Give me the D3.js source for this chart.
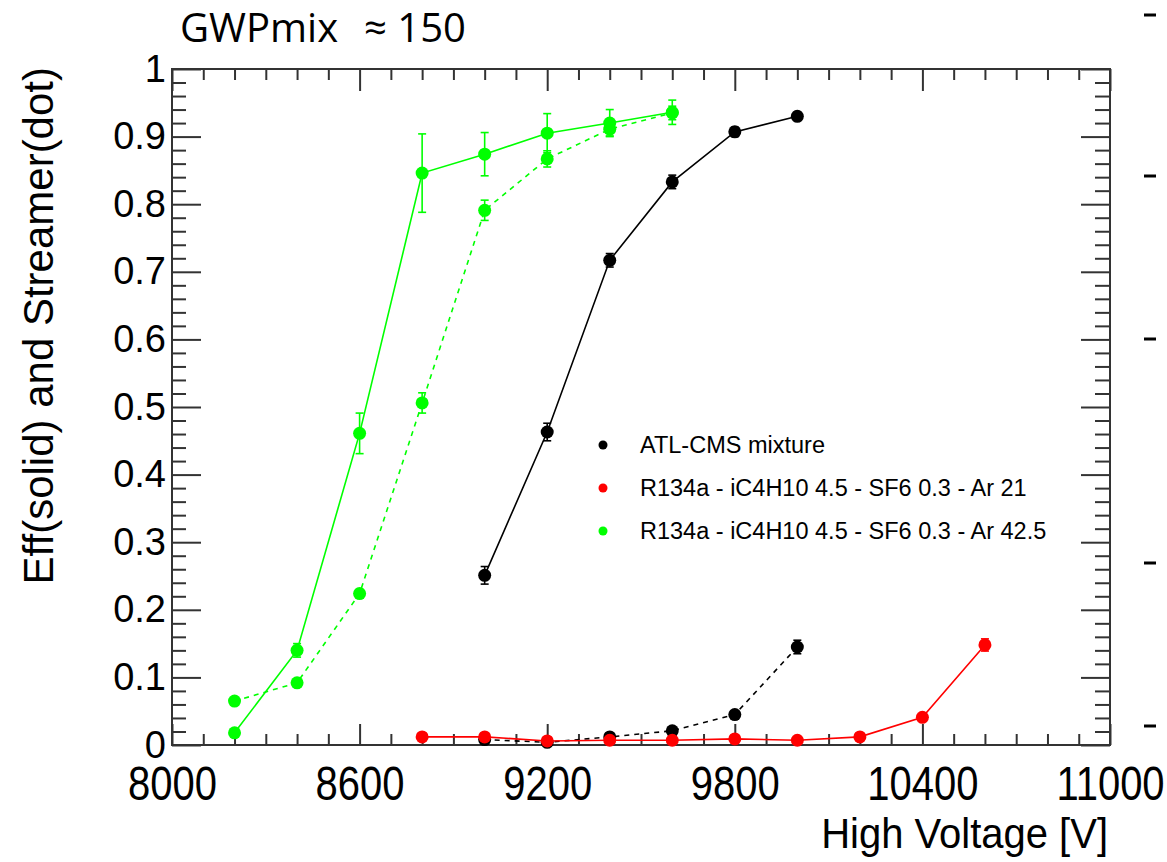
<!DOCTYPE html>
<html>
<head>
<meta charset="utf-8">
<script src="https://cdn.jsdelivr.net/npm/d3@7"></script>
<style>
  body { margin: 0; background: #fff; }
  svg { display: block; }
  .axis path { display: none; }
  .axis line { stroke: #333; stroke-width: 2; }
  .axis text { font-family: "Liberation Sans", Arial, sans-serif; fill: #000; }
</style>
</head>
<body>
<svg id="chart"></svg>
<script>
// high voltage points (V)
const hvGreen = [8200, 8400, 8600, 8800, 9000, 9200, 9400, 9600];
const hvBlack = [9000, 9200, 9400, 9600, 9800, 10000];
const hvRed = [8800, 9000, 9200, 9400, 9600, 9800, 10000, 10200, 10400, 10600];

// efficiency (solid) and streamer (dashed)
const effGreen = [0.018, 0.140, 0.461, 0.846, 0.874, 0.905, 0.920, 0.936];
const effGreenErr = [0.004, 0.010, 0.030, 0.058, 0.032, 0.029, 0.020, 0.018];
const strGreen = [0.065, 0.092, 0.224, 0.506, 0.791, 0.867, 0.911, 0.935];
const strGreenErr = [0.004, 0.005, 0.006, 0.015, 0.015, 0.012, 0.010, 0.010];

const effBlack = [0.251, 0.463, 0.717, 0.833, 0.907, 0.930];
const effBlackErr = [0.013, 0.013, 0.010, 0.010, 0.007, 0.006];
const strBlack = [0.008, 0.004, 0.012, 0.021, 0.045, 0.145];
const strBlackErr = [0.003, 0.003, 0.003, 0.004, 0.004, 0.010];

const effRed = [0.012, 0.012, 0.006, 0.007, 0.007, 0.009, 0.007, 0.012, 0.041, 0.148];
const effRedErr = [0.003, 0.003, 0.003, 0.003, 0.003, 0.003, 0.003, 0.003, 0.004, 0.009];

const legendLabels = ["ATL-CMS mixture",
  "R134a - iC4H10 4.5 - SF6 0.3 - Ar 21",
  "R134a - iC4H10 4.5 - SF6 0.3 - Ar 42.5"];
const legendColors = ["#000000", "#ff0000", "#00ff00"];

const xMajor = [8000, 8600, 9200, 9800, 10400, 11000];
const yMajor = [0, 0.1, 0.2, 0.3, 0.4, 0.5, 0.6, 0.7, 0.8, 0.9, 1];

const W = 1167, H = 862;
const svg = d3.select("#chart").attr("width", W).attr("height", H);

const x = d3.scaleLinear().domain([8000, 11000]).range([172, 1110]);
const y = d3.scaleLinear().domain([0, 1]).range([745, 69]);

const xMinor = d3.range(8000, 11001, 100).filter(v => !xMajor.includes(v));
const yMinor = d3.range(0, 51).map(i => i / 50).filter(v => Math.round(v * 50) % 5 !== 0);

// axes: ticks pointing into the frame on all four sides
const gx = svg.append("g").attr("class", "axis").attr("transform", `translate(0,${y(0)})`);
gx.call(d3.axisBottom(x).tickValues(xMajor).tickSizeInner(-21).tickSizeOuter(0).tickFormat(d3.format("d")));
// taller, narrow digits like the ROOT output (baseline ~800px)
gx.selectAll("text")
  .attr("font-size", "40px")
  .attr("y", 0).attr("dy", null)
  .attr("transform", `translate(0,${800 - y(0)}) scale(1,1.2)`);
svg.append("g").attr("class", "axis").attr("transform", `translate(0,${y(0)})`)
  .call(d3.axisBottom(x).tickValues(xMinor).tickSize(-11).tickFormat(""));

svg.append("g").attr("class", "axis").attr("transform", `translate(0,${y(1)})`)
  .call(d3.axisTop(x).tickValues(xMajor).tickSize(-22).tickFormat(""));
svg.append("g").attr("class", "axis").attr("transform", `translate(0,${y(1)})`)
  .call(d3.axisTop(x).tickValues(xMinor).tickSize(-11).tickFormat(""));

const gy = svg.append("g").attr("class", "axis").attr("transform", `translate(${x(8000)},0)`);
gy.call(d3.axisLeft(y).tickValues(yMajor).tickSizeInner(-29).tickSizeOuter(0).tickPadding(6).tickFormat(d => d3.format("")(+d.toFixed(1))));
gy.selectAll("text").attr("font-size", "38px");
svg.append("g").attr("class", "axis").attr("transform", `translate(${x(8000)},0)`)
  .call(d3.axisLeft(y).tickValues(yMinor).tickSize(-14).tickFormat(""));

svg.append("g").attr("class", "axis").attr("transform", `translate(${x(11000)},0)`)
  .call(d3.axisRight(y).tickValues(yMajor).tickSize(-29).tickFormat(""));
svg.append("g").attr("class", "axis").attr("transform", `translate(${x(11000)},0)`)
  .call(d3.axisRight(y).tickValues(yMinor).tickSize(-15).tickFormat(""));

// frame
svg.append("rect")
  .attr("x", x(8000)).attr("y", y(1))
  .attr("width", x(11000) - x(8000)).attr("height", y(0) - y(1))
  .attr("fill", "none").attr("stroke", "#333").attr("stroke-width", 2);

// axis titles
svg.append("text")
  .attr("transform", `translate(${x(11000) - 2},848) scale(1,1.08)`)
  .attr("text-anchor", "end")
  .attr("font-family", "Liberation Sans, Arial, sans-serif")
  .attr("font-size", "40px")
  .text("High Voltage [V]");

svg.append("text")
  .attr("transform", `translate(53,${y(1) - 2}) rotate(-90)`)
  .attr("text-anchor", "end")
  .attr("font-family", "Liberation Sans, Arial, sans-serif")
  .attr("font-size", "42px")
  .text("Eff(solid) and Streamer(dot)");

// slide title
const title = svg.append("text")
  .attr("y", 42)
  .attr("font-family", "Open Sans, sans-serif")
  .attr("font-size", "40px")
  .attr("fill", "#000");
title.append("tspan").attr("x", 180).text("GWPmix");
title.append("tspan").attr("x", 364).text("≈ 150");

// stray marks from the slide on the right
const sideMarks = [15, 176, 339, 563, 726];
svg.selectAll(".side").data(sideMarks).join("line")
  .attr("x1", 1144).attr("x2", 1156)
  .attr("y1", d => d).attr("y2", d => d)
  .attr("stroke", "#000").attr("stroke-width", 3);

// series
function drawSeries(hv, vals, errs, color, dashed) {
  const pts = hv.map((h, i) => ({ h: h, v: vals[i], e: errs[i] }));
  const g = svg.append("g");
  g.append("path")
    .datum(pts)
    .attr("fill", "none")
    .attr("stroke", color)
    .attr("stroke-width", 1.6)
    .attr("stroke-dasharray", dashed ? "5,5" : null)
    .attr("d", d3.line().x(d => x(d.h)).y(d => y(d.v)));
  const eb = g.selectAll(".eb").data(pts).join("g").attr("stroke", color).attr("stroke-width", 1.6);
  eb.append("line")
    .attr("x1", d => x(d.h)).attr("x2", d => x(d.h))
    .attr("y1", d => y(d.v + d.e)).attr("y2", d => y(d.v - d.e));
  eb.append("line")
    .attr("x1", d => x(d.h) - 4).attr("x2", d => x(d.h) + 4)
    .attr("y1", d => y(d.v + d.e)).attr("y2", d => y(d.v + d.e));
  eb.append("line")
    .attr("x1", d => x(d.h) - 4).attr("x2", d => x(d.h) + 4)
    .attr("y1", d => y(d.v - d.e)).attr("y2", d => y(d.v - d.e));
  g.selectAll("circle").data(pts).join("circle")
    .attr("cx", d => x(d.h)).attr("cy", d => y(d.v))
    .attr("r", 6.5).attr("fill", color);
}

drawSeries(hvBlack, strBlack, strBlackErr, "#000000", true);
drawSeries(hvBlack, effBlack, effBlackErr, "#000000", false);
drawSeries(hvRed, effRed, effRedErr, "#ff0000", false);
drawSeries(hvGreen, strGreen, strGreenErr, "#00ff00", true);
drawSeries(hvGreen, effGreen, effGreenErr, "#00ff00", false);

// legend
const leg = svg.append("g");
const rows = leg.selectAll("g").data(legendLabels).join("g")
  .attr("transform", (d, i) => `translate(603,${445 + i * 43})`);
rows.append("circle").attr("r", 4.5).attr("fill", (d, i) => legendColors[i]);
rows.append("text")
  .attr("x", 37).attr("dy", "0.35em")
  .attr("font-family", "Liberation Sans, Arial, sans-serif")
  .attr("font-size", "23.5px")
  .text(d => d);
</script>
</body>
</html>
